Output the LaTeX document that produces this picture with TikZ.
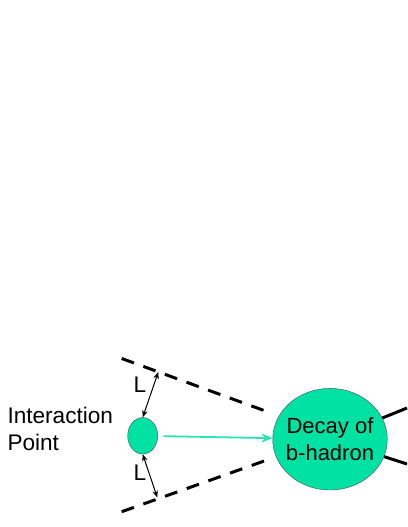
\documentclass[tikz,border=0pt]{standalone}
\usepackage{fontspec}
\setmainfont{Liberation Sans}
\usetikzlibrary{shapes.geometric, arrows.meta}
\definecolor{bgreen}{RGB}{0,226,164}
\definecolor{agreen}{RGB}{40,230,180}
\tikzset{
  blob/.style={ellipse, draw=black!70, fill=bgreen, inner sep=0pt},
  cone/.style={line width=3pt, dash pattern=on 13pt off 10pt},
  txt/.style={font=\fontsize{22.6}{27}\selectfont},
  gap/.style={<->, line width=1pt, >={Stealth[length=7pt, width=5.5pt]}},
}
\begin{document}
\begin{tikzpicture}[>=stealth, x=1pt, y=-1pt]
                \useasboundingbox (0,0) rectangle (407,527);
                \node[blob, minimum width=30pt, minimum height=36.5pt] (ip) at (142.7,435.8) {};
                \node[blob, inner xsep=-5pt, minimum width=114.6pt, minimum height=101.6pt, align=center, font=\fontsize{22}{27}\selectfont] (decay) at (330,439.2) {Decay of\\b-hadron};
                \node[txt, align=left, anchor=west, inner sep=0pt] (iplabel) at (7.3,429) {Interaction\\Point};
                \coordinate (ua) at (121.7,358.5); \coordinate (ub) at (271.7,413.3);
                \coordinate (la) at (121.7,511.7); \coordinate (lb) at (271.7,458.3);
                \draw[cone] (ua) -- (ub);
                \draw[cone] (la) -- (lb);
                \coordinate (ut) at (158.3,372); \coordinate (lt) at (157.3,497.5);
                \draw[gap] (ut) -- (ip.north);
                \draw[gap] (ip.south) -- (lt);
                \node[txt, inner sep=0pt] (lup) at (140,384.5) {L};
                \node[txt, inner sep=0pt] (llow) at (140,473) {L};
                \draw[-{Stealth[length=11pt, width=9pt]}, agreen, line width=1.8pt, shorten <=5.5pt] (ip) -- (decay);
                \coordinate (r1) at (407,408); \coordinate (r2) at (407,464);
                \draw[line width=3pt] (decay) -- (r1);
                \draw[line width=3pt] (decay) -- (r2);
            \end{tikzpicture}
\end{document}
